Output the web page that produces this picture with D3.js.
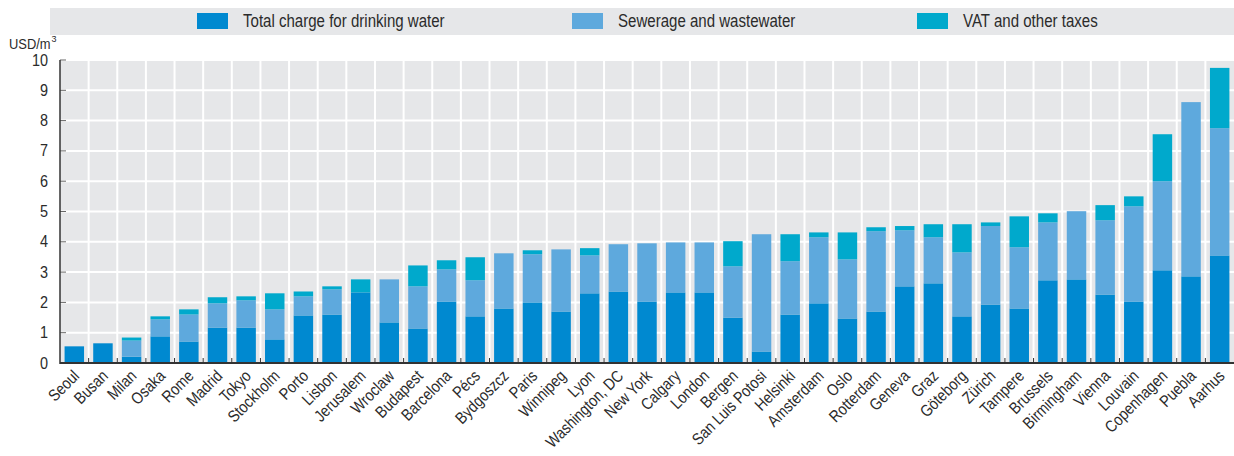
<!DOCTYPE html>
<html>
<head>
<meta charset="utf-8">
<script src="https://cdn.jsdelivr.net/npm/d3@7"></script>
<style>
  html, body { margin: 0; padding: 0; background: #fff; }
  svg { display: block; }
  text { font-family: "Liberation Sans", Arial, sans-serif; fill: #2b2b2b; }
</style>
</head>
<body>
<svg id="chart" width="1234" height="456"></svg>
<script>
const cities = ["Seoul","Busan","Milan","Osaka","Rome","Madrid","Tokyo","Stockholm","Porto","Lisbon","Jerusalem","Wroclaw","Budapest","Barcelona","Pécs","Bydgoszcz","Paris","Winnipeg","Lyon","Washington, DC","New York","Calgary","London","Bergen","San Luis Potosi","Helsinki","Amsterdam","Oslo","Rotterdam","Geneva","Graz","Göteborg","Zürich","Tampere","Brussels","Birmingham","Vienna","Louvain","Copenhagen","Puebla","Aarhus"];
const drinking = [0.55,0.65,0.21,0.88,0.71,1.17,1.17,0.78,1.57,1.60,2.33,1.34,1.14,2.03,1.54,1.80,2.00,1.70,2.30,2.36,2.03,2.33,2.33,1.50,0.38,1.60,1.97,1.47,1.70,2.53,2.63,1.54,1.93,1.80,2.73,2.76,2.26,2.03,3.06,2.86,3.55];
const sewerage = [0,0,0.53,0.56,0.89,0.80,0.90,0.99,0.63,0.83,0,1.42,1.39,1.06,1.19,1.82,1.59,2.05,1.25,1.56,1.92,1.65,1.65,1.69,3.87,1.76,2.18,1.95,2.65,1.85,1.52,2.11,2.59,2.02,1.91,2.25,2.45,3.14,2.94,5.75,4.20];
const vat = [0,0,0.10,0.10,0.17,0.20,0.13,0.53,0.16,0.10,0.43,0,0.69,0.30,0.76,0,0.13,0,0.24,0,0,0,0,0.83,0,0.89,0.16,0.89,0.13,0.14,0.43,0.93,0.12,1.02,0.30,0,0.50,0.33,1.55,0,1.99];
const yTicks = [0,1,2,3,4,5,6,7,8,9,10];
const seriesNames = ["Total charge for drinking water","Sewerage and wastewater","VAT and other taxes"];
const seriesKeys = ["drinking","sewerage","vat"];
const colors = ["#0089d0","#5ea9dd","#00a9cc"];

const svg = d3.select("#chart");
const m = {left: 60, right: 1234, top: 60, bottom: 363};

function squeeze(sel, f) {
  let last = 0;
  sel.each(function () {
    const L = this.getComputedTextLength();
    last = L * f;
    d3.select(this).attr("textLength", last).attr("lengthAdjust", "spacingAndGlyphs");
  });
  return last;
}

const rows = cities.map((c, i) => ({city: c, drinking: drinking[i], sewerage: sewerage[i], vat: vat[i]}));

const x = d3.scaleBand().domain(cities).range([m.left, m.right]).paddingInner(0.32).paddingOuter(0.16);
const y = d3.scaleLinear().domain([0, 10]).range([m.bottom, m.top]);

// legend band
svg.append("rect").attr("x", 50).attr("y", 8).attr("width", 1184).attr("height", 27).attr("fill", "#e6e7e9");
const legX = [197, 572, 917];
seriesNames.forEach((n, i) => {
  svg.append("rect").attr("x", legX[i]).attr("y", 13).attr("width", 31).attr("height", 16).attr("fill", colors[i]);
  const t = svg.append("text").attr("x", legX[i] + 46).attr("y", 27).attr("font-size", 17.5).text(n);
  squeeze(t, 0.86);
});

// plot background
svg.append("rect").attr("x", m.left).attr("y", m.top).attr("width", m.right - m.left).attr("height", m.bottom - m.top).attr("fill", "#e6e7e9");

// horizontal grid
svg.append("g").selectAll("line").data(yTicks.slice(1)).join("line")
  .attr("x1", m.left).attr("x2", m.right)
  .attr("y1", d => y(d)).attr("y2", d => y(d))
  .attr("stroke", "#fff").attr("stroke-width", 2);

// vertical grid at category boundaries
const step = x.step();
const boundary = cities.slice(1).map((c, i) => m.left + step * (i + 1));
svg.append("g").selectAll("line").data(boundary).join("line")
  .attr("x1", d => d).attr("x2", d => d)
  .attr("y1", m.top).attr("y2", m.bottom)
  .attr("stroke", "#fff").attr("stroke-width", 2);

// bars
const stack = d3.stack().keys(seriesKeys)(rows);
svg.append("g").selectAll("g").data(stack).join("g")
  .attr("fill", (d, i) => colors[i])
  .selectAll("rect").data(d => d).join("rect")
  .attr("x", d => x(d.data.city))
  .attr("width", x.bandwidth())
  .attr("y", d => y(d[1]))
  .attr("height", d => Math.max(0, y(d[0]) - y(d[1])));

// y ticks inside
svg.append("g").selectAll("line").data(yTicks.slice(1)).join("line")
  .attr("x1", m.left).attr("x2", m.left + 6)
  .attr("y1", d => y(d)).attr("y2", d => y(d))
  .attr("stroke", "#666").attr("stroke-width", 1);

// x ticks at boundaries
svg.append("g").selectAll("line").data(boundary).join("line")
  .attr("x1", d => d).attr("x2", d => d)
  .attr("y1", m.bottom - 5).attr("y2", m.bottom)
  .attr("stroke", "#333").attr("stroke-width", 1);

// axes lines
svg.append("line").attr("x1", m.left).attr("x2", m.left).attr("y1", m.top).attr("y2", m.bottom + 1).attr("stroke", "#333").attr("stroke-width", 1.5);
svg.append("line").attr("x1", m.left).attr("x2", m.right).attr("y1", m.bottom).attr("y2", m.bottom).attr("stroke", "#333").attr("stroke-width", 2);

// y labels
const yl = svg.append("g").selectAll("text").data(yTicks).join("text")
  .attr("x", 48).attr("y", d => y(d) + 5.5)
  .attr("text-anchor", "end").attr("font-size", 16)
  .text(d => d);
squeeze(yl, 0.9);
const ulab = svg.append("text").attr("x", 9).attr("y", 48.5).attr("font-size", 15);
const uMain = ulab.append("tspan").text("USD/m");
squeeze(uMain, 0.86);
ulab.append("tspan").attr("font-size", 9).attr("dx", 0.8).attr("dy", -6.5).text("3");

// x labels
const xl = svg.append("g").selectAll("text").data(cities).join("text")
  .attr("transform", d => `translate(${x(d) + x.bandwidth() / 2 + 6},${m.bottom + 14}) rotate(-45)`)
  .attr("text-anchor", "end").attr("font-size", 16.5)
  .text(d => d);
squeeze(xl, 0.85);
</script>
</body>
</html>
